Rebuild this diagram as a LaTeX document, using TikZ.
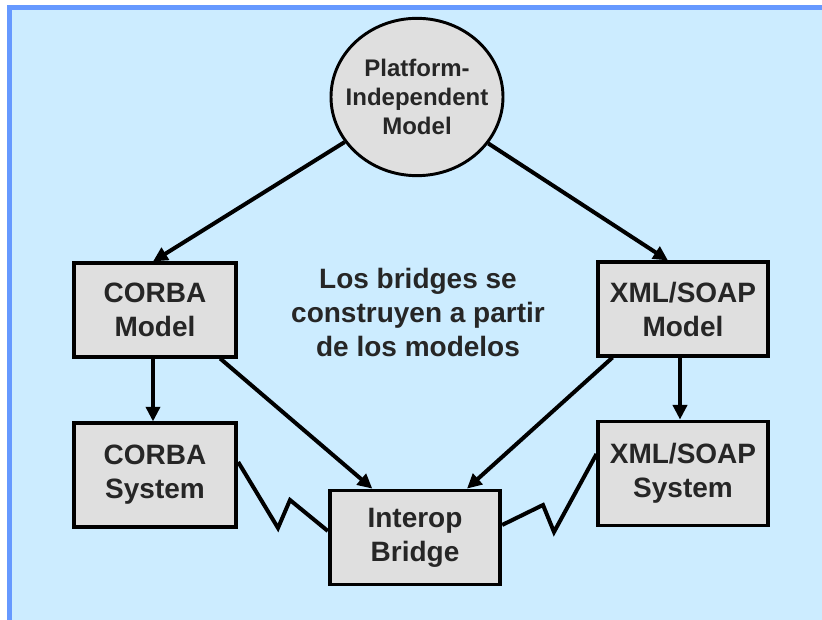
\documentclass[tikz,border=0pt]{standalone}
\usepackage{fontspec}
\setmainfont{Liberation Sans}
\usetikzlibrary{arrows.meta,shapes.geometric}

\definecolor{paneblue}{HTML}{CCECFF}
\definecolor{frameblue}{HTML}{6699FF}
\definecolor{boxgray}{HTML}{DFDFDF}
\definecolor{inkgray}{HTML}{262626}

\tikzset{every picture/.style={line width=3pt}}
\tikzset{
  modelbox/.style={draw=black, fill=boxgray, line width=2.8pt, align=center, text=inkgray,
    font=\bfseries\fontsize{21}{25.5}\selectfont, inner sep=0pt},
  pimshape/.style={ellipse, draw=black, fill=boxgray, line width=2.2pt, inner sep=0pt},
  pimtext/.style={align=center, text=inkgray, font=\bfseries\fontsize{18}{22}\selectfont, inner sep=0pt},
  flow/.style={-{Triangle[length=11pt,width=10.5pt]}, line width=3pt},
  zigzag/.style={line width=3pt, line join=miter}
}

\begin{document}
\begin{tikzpicture}[x=0.75pt,y=0.75pt,yscale=-1,xscale=1]
\useasboundingbox (0,0) rectangle (822,620);

%Shape: Rectangle (frame and pane)
\fill [frameblue] (7,5) rectangle (822,620);
\fill [paneblue] (12,10) rectangle (822,620);

%Shape: Ellipse
\node [pimshape, minimum width=129pt, minimum height=118pt] (pim) at (417,97) {};
% Text Node
\node [pimtext] (pimlabel) at (pim) {Platform-\\Independent\\Model};
%Shape: Rectangle
\node [modelbox, minimum width=122pt, minimum height=70pt] (cmodel) at (155,310) {CORBA\\Model};
%Shape: Rectangle
\node [modelbox, minimum width=122pt, minimum height=77.5pt] (csystem) at (155,475) {CORBA\\System};
%Shape: Rectangle
\node [modelbox, minimum width=127pt, minimum height=70pt] (xmodel) at (683,309) {XML/SOAP\\Model};
%Shape: Rectangle
\node [modelbox, minimum width=127pt, minimum height=78pt] (xsystem) at (683,473.5) {XML/SOAP\\System};
%Shape: Rectangle
\node [modelbox, minimum width=128pt, minimum height=70.5pt] (bridge) at (415,537.5) {Interop\\Bridge};

% Text Node
\node [align=center, text=inkgray, font=\bfseries\fontsize{21}{25.5}\selectfont] (note) at (418,312) {Los bridges se\\construyen a partir\\de los modelos};

%Straight Lines
\draw [flow] (pim) -- ([xshift=-1.5pt]cmodel.north);
\draw [flow] (pim) -- ([xshift=-11.25pt]xmodel.north);
\draw [flow] ([xshift=-1.5pt]cmodel.south) -- ([xshift=-1.5pt]csystem.north);
\draw [flow] ([xshift=-2.25pt]xmodel.south) -- ([xshift=-2.25pt]xsystem.north);
\draw [flow] ([xshift=-13.5pt]cmodel.south east) -- ([xshift=-32pt]bridge.north);
\draw [flow] ([xshift=12pt]xmodel.south west) -- ([xshift=39pt]bridge.north);

%Straight Lines (zigzag links)
\draw [zigzag] ([yshift=-9.75pt]csystem.east) -- (278,528) -- (290,500) -- ([yshift=-4.9pt]bridge.west);
\draw [zigzag] ([yshift=-9.4pt]bridge.east) -- (543,505) -- (554,532) -- ([yshift=-14.6pt]xsystem.west);

\end{tikzpicture}
\end{document}
